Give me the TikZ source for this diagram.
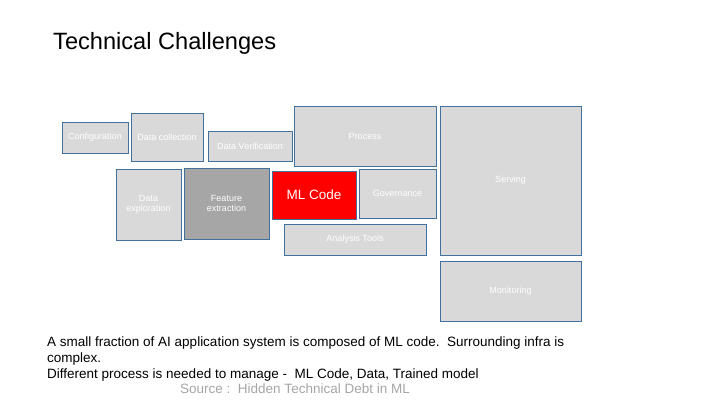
\documentclass[tikz,border=0pt]{standalone}
\usepackage{fontspec}
\setmainfont{Liberation Sans}
\usetikzlibrary{positioning}
\definecolor{boxgray}{HTML}{D9D9D9}
\definecolor{featgray}{HTML}{A6A6A6}
\definecolor{edgeblue}{HTML}{41719C}
\definecolor{srcgray}{HTML}{A6A6A6}

\begin{document}
\begin{tikzpicture}[
  x=1pt,y=-1pt,
  box/.style={draw=edgeblue,line width=1pt,fill=boxgray,text=white,align=center,
    inner sep=0pt,outer sep=0pt,anchor=north west,
    font=\fontsize{9}{10}\selectfont},
  body/.style={anchor=base west,align=left,inner sep=0pt,
    font=\fontsize{13.5}{16}\selectfont}
]
\useasboundingbox[fill=white] (0,0) rectangle (720,405);

\node[anchor=base west,inner sep=0pt,font=\fontsize{23.6}{28}\selectfont] (title) at (53,49) {Technical Challenges};

% surrounding infrastructure
\node[box,minimum width=66,minimum height=31] (config) at (62,122) {Configuration};
\node[box,minimum width=72,minimum height=48] (collect) at (131,113) {Data collection};
\node[box,minimum width=84,minimum height=30] (verify) at (208,131) {Data Verification};
\node[box,minimum width=65,minimum height=71] (explore) at (116,169) {Data\\exploration};
\node[box,fill=featgray,minimum width=85,minimum height=71] (feature) at (184,168) {Feature\\extraction};
\node[box,fill=red,minimum width=84,minimum height=48,font=\fontsize{13.5}{16}\selectfont] (mlcode) at (272,171) {ML Code};
\node[box,minimum width=142,minimum height=60] (process) at (294,106) {Process};
\node[box,minimum width=77,minimum height=49] (govern) at (359,169) {Governance};
\node[box,minimum width=142,minimum height=31] (analysis) at (284,224) {Analysis Tools};
\node[box,minimum width=141,minimum height=149] (serving) at (440,106) {Serving};
\node[box,anchor=north,minimum width=141,minimum height=60,below=6pt of serving] (monitor) {Monitoring};

% notes (base = last line)
\node[body] (note) at (47,378) {A small fraction of AI application system is composed of ML code.\ \ Surrounding infra is\\complex.\\Different process is needed to manage -\ \ ML Code, Data, Trained model};
\node[body,text=srcgray] (source) at (180,393) {Source :\ \ Hidden Technical Debt in ML};
\end{tikzpicture}
\end{document}
